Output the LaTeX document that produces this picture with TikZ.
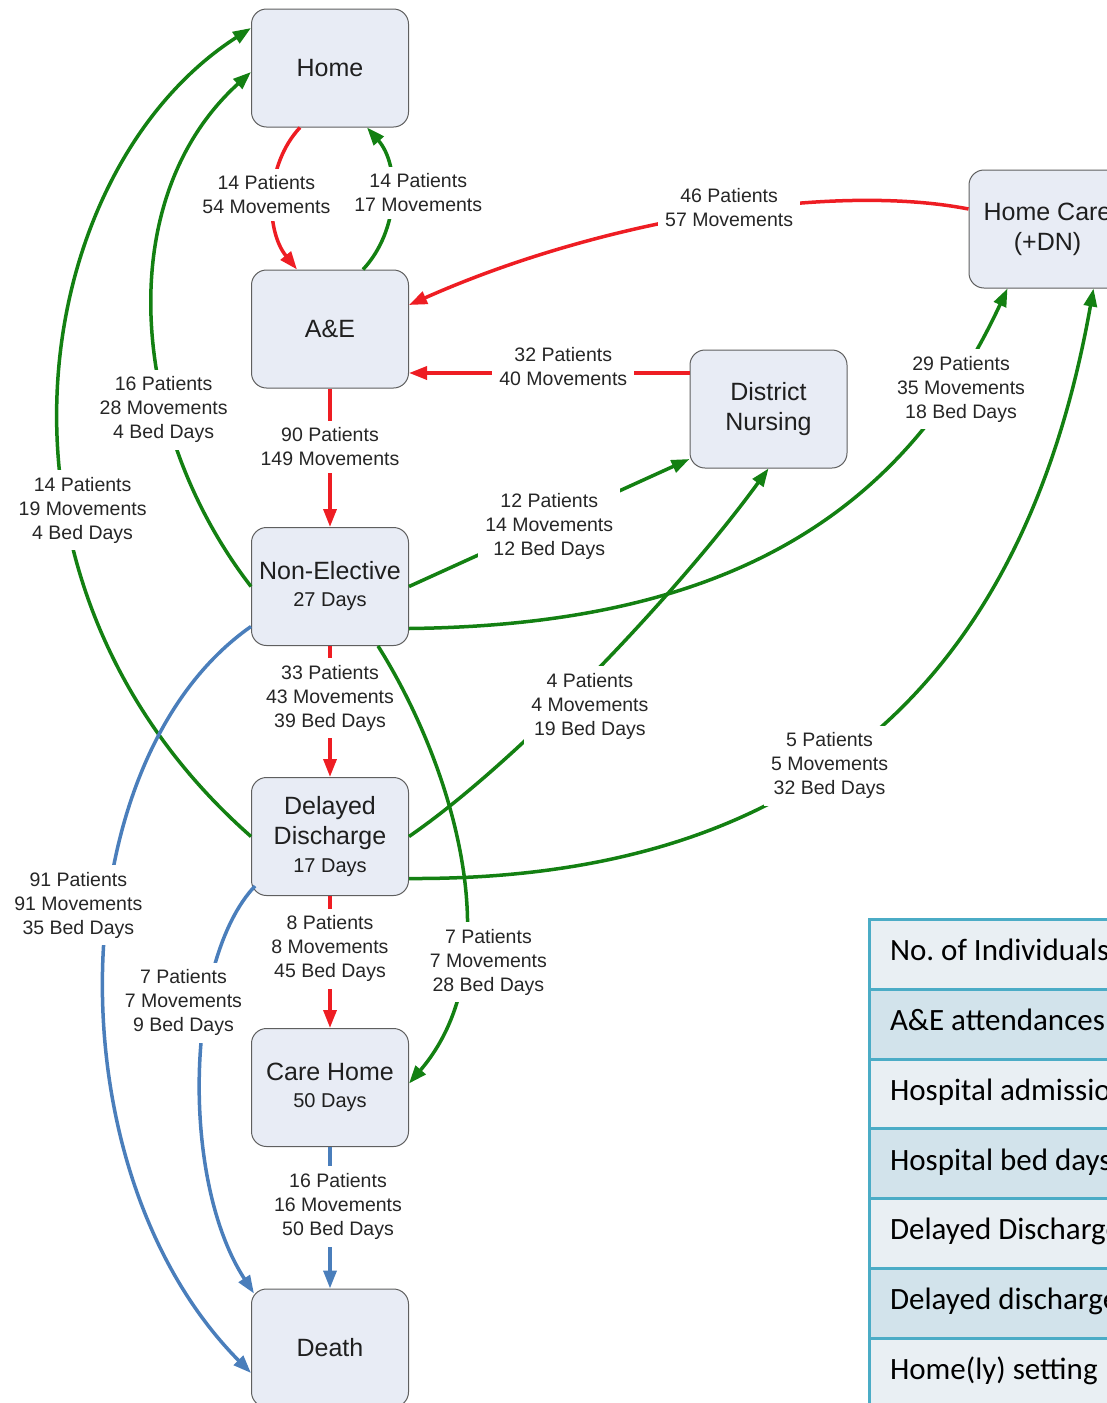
\documentclass[tikz,border=0pt]{standalone}
\usepackage{fontspec}
\setmainfont{Liberation Sans}
\newfontfamily\tablefont{Carlito}
\usetikzlibrary{arrows.meta}
\definecolor{FlowRed}{HTML}{EE1D23}
\definecolor{FlowGreen}{HTML}{138012}
\definecolor{FlowBlue}{HTML}{4A7EBB}
\definecolor{BoxFill}{HTML}{E8ECF5}
\definecolor{BoxLine}{HTML}{5F5F5F}
\definecolor{TableLine}{HTML}{4BACC6}
\definecolor{TableLight}{HTML}{E9EFF3}
\definecolor{TableDark}{HTML}{D2E3EB}
\newcommand{\staydays}[1]{{\fontsize{20}{24}\selectfont #1}}
\frenchspacing

\begin{document}
\begin{tikzpicture}[x=1pt, y=-1pt,
        stage/.style={draw=BoxLine, line width=1pt, fill=BoxFill, rounded corners=15pt, minimum width=157pt, minimum height=118pt, align=center, font=\fontsize{25}{30}\selectfont, text=black!88},
        link/.style={line width=3.5pt, -{Triangle[length=18pt,width=13pt]}},
        linkred/.style={link, FlowRed},
        linkgreen/.style={link, FlowGreen},
        linkblue/.style={link, FlowBlue},
        flowlabel/.style={fill=white, inner sep=7pt, align=center, font=\fontsize{19.5}{24}\selectfont, text=black!85},
        tablerow/.style={draw=TableLine, line width=3pt, outer sep=0pt, anchor=west, minimum height=70pt, text width=300pt, inner xsep=21pt, align=flush left, font=\tablefont\fontsize{31}{36}\selectfont, text height=20pt, text depth=7pt, text=black}
    ]
    \useasboundingbox (0,0) rectangle (1106,1403);

    % Key table (bottom right)
    \node[tablerow, fill=TableLight] (rowpeople) at (869,954) {No. of Individuals};
    \node[tablerow, fill=TableDark] (rowae) at (869,1024) {A\&E attendances};
    \node[tablerow, fill=TableLight] (rowadmit) at (869,1094) {Hospital admissions};
    \node[tablerow, fill=TableDark] (rowbed) at (869,1163.5) {Hospital bed days};
    \node[tablerow, fill=TableLight] (rowdelay) at (869,1233) {Delayed Discharges};
    \node[tablerow, fill=TableDark] (rowdelaydays) at (869,1303) {Delayed discharge days};
    \node[tablerow, fill=TableLight] (rowhomely) at (869,1373) {Home(ly) setting};

    % Care settings
    \node[stage] (home) at (330,68) {Home};
    \node[stage] (ae) at (330,329) {A\&E};
    \node[stage] (nonelec) at (330,586.5) {Non-Elective\\[-3pt]\staydays{27 Days}};
    \node[stage] (delayed) at (330,836.5) {Delayed\\Discharge\\[-2pt]\staydays{17 Days}};
    \node[stage] (carehome) at (330,1087.5) {Care Home\\[-3pt]\staydays{50 Days}};
    \node[stage] (death) at (330,1348) {Death};
    \node[stage] (distnurse) at (768.5,409) {District\\Nursing};
    \node[stage] (homecare) at (1047.5,229) {Home Care\\(+DN)};

    % Movements into A&E and hospital (red)
    \draw[linkred] ([xshift=-30pt]home.south) .. controls (265,165) and (265,230) .. node[flowlabel, pos=0.5, xshift=-7pt, yshift=3pt] {14 Patients\\54 Movements} ([xshift=-33pt]ae.north);
    \draw[linkred] ([yshift=20pt]homecare.west) .. controls (830,182) and (600,220) .. node[flowlabel, pos=0.47, xshift=3pt, yshift=5pt] {46 Patients\\57 Movements} ([yshift=24pt]ae.east);
    \draw[linkred] ([yshift=36pt]distnurse.west) -- node[flowlabel, pos=0.45, yshift=6pt] {32 Patients\\40 Movements} ([yshift=-44pt]ae.east);
    \draw[linkred] (ae) -- node[flowlabel, pos=0.42] {90 Patients\\149 Movements} (nonelec);
    \draw[linkred] (nonelec) -- node[flowlabel, pos=0.4] {33 Patients\\43 Movements\\39 Bed Days} (delayed);
    \draw[linkred] (delayed) -- node[flowlabel, pos=0.4] {8 Patients\\8 Movements\\45 Bed Days} (carehome);

    % Discharges home (green)
    \draw[linkgreen] ([xshift=33pt]ae.north) .. controls (400,230) and (400,165) .. node[flowlabel, pos=0.5, xshift=27pt, yshift=5pt] {14 Patients\\17 Movements} ([xshift=37pt]home.south);
    \draw[linkgreen] (nonelec.west) .. controls (130,430) and (110,200) .. node[flowlabel, pos=0.35, yshift=-7pt] {16 Patients\\28 Movements\\4 Bed Days} ([yshift=-4pt]home.west);
    \draw[linkgreen] (delayed.west) .. controls (-40,580) and (30,170) .. node[flowlabel, pos=0.37, xshift=17pt] {14 Patients\\19 Movements\\4 Bed Days} ([yshift=40pt]home.west);
    \draw[linkgreen] (nonelec.east) -- node[flowlabel, pos=0.5, yshift=-4pt] {12 Patients\\14 Movements\\12 Bed Days} ([yshift=-50pt]distnurse.west);
    \draw[linkgreen] ([yshift=-42pt]nonelec.east) .. controls (720,625) and (900,520) .. node[flowlabel, pos=0.85, xshift=7pt, yshift=-5pt] {29 Patients\\35 Movements\\18 Bed Days} ([xshift=-40pt]homecare.south);
    \draw[linkgreen] (delayed.east) .. controls (520,760) and (680,590) .. node[flowlabel, pos=0.42, xshift=24pt, yshift=-5pt] {4 Patients\\4 Movements\\19 Bed Days} (distnurse.south);
    \draw[linkgreen] ([yshift=-42pt]delayed.east) .. controls (720,880) and (1010,760) .. node[flowlabel, pos=0.5, xshift=-7pt, yshift=-5pt] {5 Patients\\5 Movements\\32 Bed Days} ([xshift=46pt]homecare.south);
    \draw[linkgreen] ([xshift=48pt]nonelec.south) .. controls (450,760) and (515,960) .. node[flowlabel, pos=0.72, xshift=27pt, yshift=3pt] {7 Patients\\7 Movements\\28 Bed Days} ([yshift=4pt]carehome.east);

    % Deaths (blue)
    \draw[linkblue] ([yshift=-40pt]nonelec.west) .. controls (60,760) and (50,1170) .. node[flowlabel, pos=0.42, xshift=-30pt] {91 Patients\\91 Movements\\35 Bed Days} ([yshift=-25pt]death.west);
    \draw[linkblue] ([xshift=4pt,yshift=10pt]delayed.south west) .. controls (185,960) and (180,1180) .. node[flowlabel, pos=0.33, xshift=-24pt, yshift=-5pt] {7 Patients\\7 Movements\\9 Bed Days} ([xshift=3pt,yshift=-5pt]death.north west);
    \draw[linkblue] (carehome) -- node[flowlabel, pos=0.42, xshift=8pt] {16 Patients\\16 Movements\\50 Bed Days} (death);
\end{tikzpicture}
\end{document}
